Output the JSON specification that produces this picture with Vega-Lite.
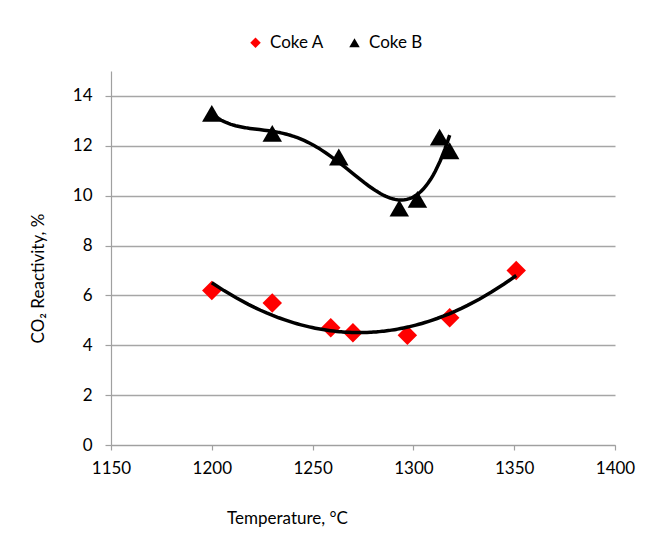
{
  "$schema": "https://vega.github.io/schema/vega-lite/v6.json",
  "autosize": {"type": "none"},
  "width": 504,
  "height": 374,
  "padding": {"left": 111, "top": 71, "right": 37, "bottom": 98},
  "background": "white",
  "config": {
    "font": "Lato",
    "view": {"stroke": null},
    "axis": {
      "labelFont": "Lato",
      "titleFont": "Lato",
      "labelFontSize": 17,
      "titleFontSize": 17,
      "labelColor": "#000000",
      "titleColor": "#000000",
      "titleFontWeight": "normal",
      "domainColor": "#a0a0a0",
      "tickColor": "#a0a0a0",
      "gridColor": "#a6a6a6",
      "domainWidth": 1.2,
      "tickWidth": 1.2,
      "gridWidth": 1.5
    },
    "legend": {"labelFont": "Lato", "labelFontSize": 17, "labelColor": "#000000"}
  },
  "data": {
    "values": [
      {"series": "Coke A", "temp": 1200, "reactivity": 6.2},
      {"series": "Coke A", "temp": 1230, "reactivity": 5.7},
      {"series": "Coke A", "temp": 1259, "reactivity": 4.7},
      {"series": "Coke A", "temp": 1270, "reactivity": 4.5},
      {"series": "Coke A", "temp": 1297, "reactivity": 4.4},
      {"series": "Coke A", "temp": 1318, "reactivity": 5.1},
      {"series": "Coke A", "temp": 1351, "reactivity": 7.0},
      {"series": "Coke B", "temp": 1200, "reactivity": 13.3},
      {"series": "Coke B", "temp": 1230, "reactivity": 12.5},
      {"series": "Coke B", "temp": 1263, "reactivity": 11.55},
      {"series": "Coke B", "temp": 1293, "reactivity": 9.5},
      {"series": "Coke B", "temp": 1302, "reactivity": 9.85},
      {"series": "Coke B", "temp": 1313, "reactivity": 12.35},
      {"series": "Coke B", "temp": 1318, "reactivity": 11.8}
    ]
  },
  "encoding": {
    "x": {
      "field": "temp",
      "type": "quantitative",
      "scale": {"domain": [1150, 1400], "nice": false, "zero": false},
      "axis": {
        "values": [1150, 1200, 1250, 1300, 1350, 1400],
        "format": "d",
        "grid": false,
        "tickSize": 5,
        "labelPadding": 10,
        "title": "Temperature, °C",
        "titleX": 176,
        "titleY": 73,
        "titleAlign": "center",
        "titleBaseline": "middle",
        "labelFlush": false
      }
    },
    "y": {
      "field": "reactivity",
      "type": "quantitative",
      "scale": {"domain": [0, 15], "nice": false},
      "axis": {
        "values": [0, 2, 4, 6, 8, 10, 12, 14],
        "grid": true,
        "tickSize": 6,
        "labelPadding": 13,
        "title": "CO₂ Reactivity, %",
        "titleX": -73,
        "titleY": 207,
        "titleAngle": -90,
        "titleAlign": "center",
        "titleBaseline": "middle"
      }
    }
  },
  "layer": [
    {
      "mark": {"type": "point", "filled": true, "opacity": 1, "size": 380, "strokeWidth": 0},
      "encoding": {
        "color": {
          "field": "series",
          "type": "nominal",
          "scale": {"domain": ["Coke A", "Coke B"], "range": ["#ff0000", "#000000"]},
          "legend": {
            "orient": "none",
            "direction": "horizontal",
            "title": null,
            "legendX": 136,
            "legendY": -37,
            "symbolSize": 110,
            "labelOffset": 6,
            "columnPadding": 22,
            "padding": 0
          }
        },
        "shape": {
          "field": "series",
          "type": "nominal",
          "scale": {"domain": ["Coke A", "Coke B"], "range": ["diamond", "triangle-up"]}
        }
      }
    },
    {
      "transform": [
        {"filter": "datum.series === 'Coke A'"},
        {"regression": "reactivity", "on": "temp", "method": "poly", "order": 2}
      ],
      "mark": {"type": "line", "color": "#000000", "strokeWidth": 3.5},
      "encoding": {}
    },
    {
      "transform": [
        {"filter": "datum.series === 'Coke B'"},
        {"regression": "reactivity", "on": "temp", "method": "poly", "order": 4}
      ],
      "mark": {"type": "line", "color": "#000000", "strokeWidth": 3.5},
      "encoding": {}
    }
  ]
}
